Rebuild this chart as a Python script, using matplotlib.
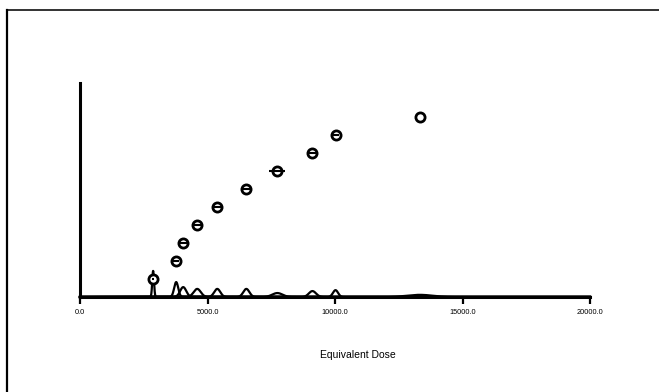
import numpy as np
import matplotlib
matplotlib.use("Agg")
import matplotlib.pyplot as plt
from matplotlib.lines import Line2D

plt.rcParams['font.family'] = ['Liberation Sans', 'DejaVu Sans']

# equivalent dose per aliquot, ranked
dose = [2868, 3772, 4047, 4597, 5383, 6523, 7740, 9115, 10020, 13320]
dose_err = [40, 120, 130, 150, 150, 150, 310, 150, 150, 0]
rank = [1, 2, 3, 4, 5, 6, 7, 8, 9, 10]
# probability curves drawn along the baseline
curve_sigma = [35, 80, 120, 140, 120, 120, 200, 140, 100, 500]
curve_height = [1.45, 0.83, 0.55, 0.45, 0.45, 0.45, 0.22, 0.33, 0.38, 0.12]

xticks = [0, 5000, 10000, 15000, 20000]

fig = plt.figure(figsize=(6.59, 3.92), dpi=100)
ax = fig.add_axes([80 / 659, 1 - 297 / 392, 510 / 659, 214 / 392])

xs = np.linspace(0, 20000, 8001)
for d, s, h in zip(dose, curve_sigma, curve_height):
    ax.plot(xs, h * np.exp(-0.5 * ((xs - d) / s) ** 2), color='black', lw=1.6,
            clip_on=False, zorder=2)

ax.plot(dose, rank, 'o', ms=6.6, mfc='white', mec='black', mew=2.0, zorder=4)
# error bar line drawn over the open marker
ax.errorbar(dose, rank, xerr=dose_err, fmt='none', ecolor='black',
            elinewidth=1.5, capsize=0, zorder=5)

ax.set_xlim(0, 20000)
ax.set_ylim(0, 11.9)
ax.set_xticks(xticks)
ax.set_xticklabels([f"{t:.1f}" for t in xticks], fontsize=5.3)
ax.set_yticks([])
ax.tick_params(axis='x', direction='out', length=5, width=1.6, pad=4, color='black')
for side in ['top', 'right']:
    ax.spines[side].set_visible(False)
for side in ['left', 'bottom']:
    ax.spines[side].set_linewidth(2.2)

fig.text(358 / 659, 1 - 355 / 392, "Equivalent Dose", fontsize=7.5,
         ha='center', va='center')

# frame lines (only the top and left edges show)
fig.add_artist(Line2D([7 / 659, 1], [1 - 10 / 392, 1 - 10 / 392], color='#222222', lw=1.3,
                      transform=fig.transFigure))
fig.add_artist(Line2D([7 / 659, 7 / 659], [0, 1 - 10 / 392], color='black', lw=1.6,
                      transform=fig.transFigure))

fig.savefig("out.png", dpi=100)
